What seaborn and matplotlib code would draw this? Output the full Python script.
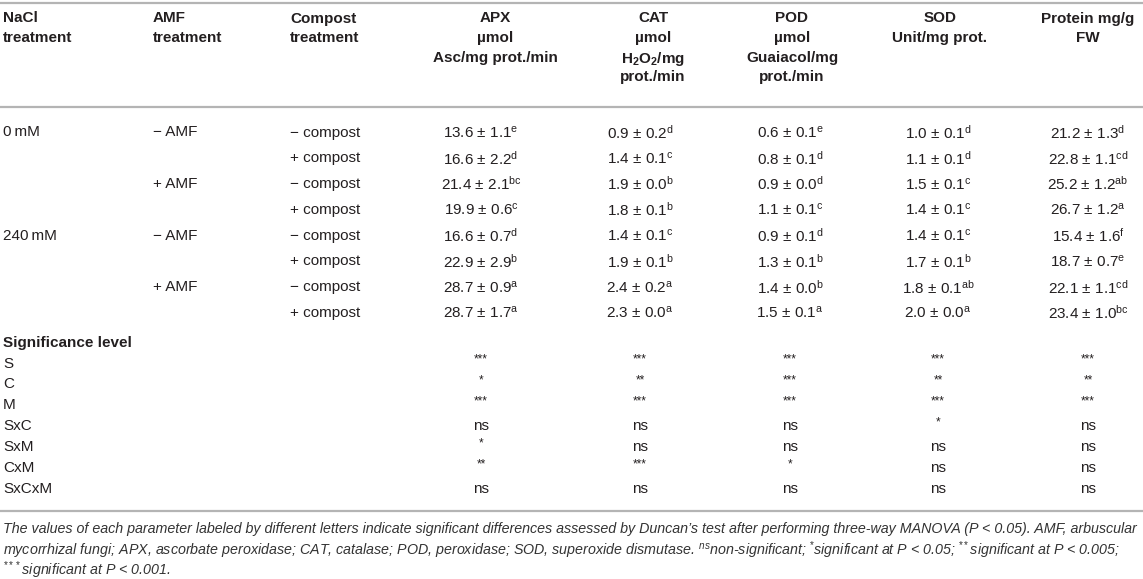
import matplotlib
matplotlib.use("Agg")
import matplotlib.pyplot as plt
import seaborn as sns

# ---- table content ----
nacl_levels = ["0\u2009mM", "240\u2009mM"]
amf_levels = ["\u2212 AMF", "+ AMF"]
compost_levels = ["\u2212 compost", "+ compost"]

apx = [13.6, 16.6, 21.4, 19.9, 16.6, 22.9, 28.7, 28.7]
apx_se = [1.1, 2.2, 2.1, 0.6, 0.7, 2.9, 0.9, 1.7]
apx_lt = ["e", "d", "bc", "c", "d", "b", "a", "a"]
cat = [0.9, 1.4, 1.9, 1.8, 1.4, 1.9, 2.4, 2.3]
cat_se = [0.2, 0.1, 0.0, 0.1, 0.1, 0.1, 0.2, 0.0]
cat_lt = ["d", "c", "b", "b", "c", "b", "a", "a"]
pod = [0.6, 0.8, 0.9, 1.1, 0.9, 1.3, 1.4, 1.5]
pod_se = [0.1, 0.1, 0.0, 0.1, 0.1, 0.1, 0.0, 0.1]
pod_lt = ["e", "d", "d", "c", "d", "b", "b", "a"]
sod = [1.0, 1.1, 1.5, 1.4, 1.4, 1.7, 1.8, 2.0]
sod_se = [0.1, 0.1, 0.1, 0.1, 0.1, 0.1, 0.1, 0.0]
sod_lt = ["d", "d", "c", "c", "c", "b", "ab", "a"]
protein = [21.2, 22.8, 25.2, 26.7, 15.4, 18.7, 22.1, 23.4]
protein_se = [1.3, 1.1, 1.2, 1.2, 1.6, 0.7, 1.1, 1.0]
protein_lt = ["d", "cd", "ab", "a", "f", "e", "cd", "bc"]

effects = ["S", "C", "M", "SxC", "SxM", "CxM", "SxCxM"]
sig_apx = ["***", "*", "***", "ns", "*", "**", "ns"]
sig_cat = ["***", "**", "***", "ns", "ns", "***", "ns"]
sig_pod = ["***", "***", "***", "ns", "ns", "*", "ns"]
sig_sod = ["***", "**", "***", "*", "ns", "ns", "ns"]
sig_protein = ["***", "**", "***", "ns", "ns", "ns", "ns"]

headers_left = [["NaCl", "treatment"], ["AMF", "treatment"], ["Compost", "treatment"]]
headers_right = [
    ["APX", "\u00b5mol", "Asc/mg prot./min"],
    ["CAT", "\u00b5mol", r"H$_\mathbf{2}$O$_\mathbf{2}$/mg", "prot./min"],
    ["POD", "\u00b5mol", "Guaiacol/mg", "prot./min"],
    ["SOD", "Unit/mg prot."],
    ["Protein mg/g", "FW"],
]

footnote = [
    "The values of each parameter labeled by different letters indicate significant differences assessed by "
    "Duncan\u2019s test after performing three-way MANOVA (P < 0.05). AMF, arbuscular",
    "mycorrhizal fungi; APX, ascorbate peroxidase; CAT, catalase; POD, peroxidase; SOD, superoxide dismutase. "
    "$^{ns}$non-significant; $^{*}$significant at P < 0.05; $^{**}$significant at P < 0.005;",
    "$^{***}$significant at P < 0.001.",
]

# ---- layout ----
sns.set_theme(style="white")
plt.rcParams["font.family"] = ["Liberation Sans", "DejaVu Sans"]
plt.rcParams["mathtext.fontset"] = "custom"
plt.rcParams["mathtext.rm"] = "Liberation Sans"
plt.rcParams["mathtext.it"] = "Liberation Sans:italic"
plt.rcParams["mathtext.bf"] = "Liberation Sans:bold"

W, H = 1143, 579
fig = plt.figure(figsize=(W / 100, H / 100), dpi=100)
ax = fig.add_axes([0, 0, 1, 1])
ax.set_xlim(0, W)
ax.set_ylim(H, 0)
ax.axis("off")

txt = "#231f20"
rule = "#b4b4b4"
fs = 11

left_x = [3, 153, 290]
col_x = [481, 640, 790, 938, 1088]
head_x = [495, 653, 792, 940, 1088]
head_y0, head_dy = 17, 19.6
row_y0, row_dy = 131, 25.8
sig_head_y = 341
sig_y0, sig_dy = 362, 20.9

for y in [3, 107, 511]:
    ax.axhline(y, color=rule, lw=1.6)

for x, lines in zip(left_x, headers_left):
    for i, s in enumerate(lines):
        ax.text(x, head_y0 + i * head_dy, s, ha="left", va="center_baseline",
                fontsize=fs, fontweight="bold", color=txt)
for x, lines in zip(head_x, headers_right):
    for i, s in enumerate(lines):
        ax.text(x, head_y0 + i * head_dy, s, ha="center", va="center_baseline",
                fontsize=fs, fontweight="bold", color=txt)

# treatment labels
for k in range(8):
    y = row_y0 + k * row_dy
    if k % 4 == 0:
        ax.text(left_x[0], y, nacl_levels[k // 4], ha="left", va="center_baseline", fontsize=fs, color=txt)
    if k % 2 == 0:
        ax.text(left_x[1], y, amf_levels[(k // 2) % 2], ha="left", va="center_baseline", fontsize=fs, color=txt)
    ax.text(left_x[2], y, compost_levels[k % 2], ha="left", va="center_baseline", fontsize=fs, color=txt)

columns = [(apx, apx_se, apx_lt), (cat, cat_se, cat_lt), (pod, pod_se, pod_lt),
           (sod, sod_se, sod_lt), (protein, protein_se, protein_lt)]
for x, (m, se, lt) in zip(col_x, columns):
    for k in range(8):
        s = f"{m[k]:.1f} \u00b1 {se[k]:.1f}$^{{\\mathrm{{{lt[k]}}}}}$"
        ax.text(x, row_y0 + k * row_dy, s, ha="center", va="center_baseline", fontsize=fs, color=txt)

ax.text(left_x[0], sig_head_y, "Significance level", ha="left", va="center_baseline",
        fontsize=fs, fontweight="bold", color=txt)
sigs = [sig_apx, sig_cat, sig_pod, sig_sod, sig_protein]
for k, e in enumerate(effects):
    y = sig_y0 + k * sig_dy
    ax.text(left_x[0], y, e, ha="left", va="center_baseline", fontsize=fs, color=txt)
    for x, col in zip(col_x, sigs):
        v = col[k]
        if v == "ns":
            ax.text(x, y, v, ha="center", va="center_baseline", fontsize=fs, color=txt)
        else:
            ax.text(x, y - 4, v, ha="center", va="center_baseline", fontsize=8.5, color=txt)

for i, s in enumerate(footnote):
    ax.text(left_x[0], 527 + i * 20, s, ha="left", va="center_baseline", fontsize=10.3,
            fontstyle="italic", color="#333333")

fig.savefig("out.png", dpi=100, facecolor="white")
